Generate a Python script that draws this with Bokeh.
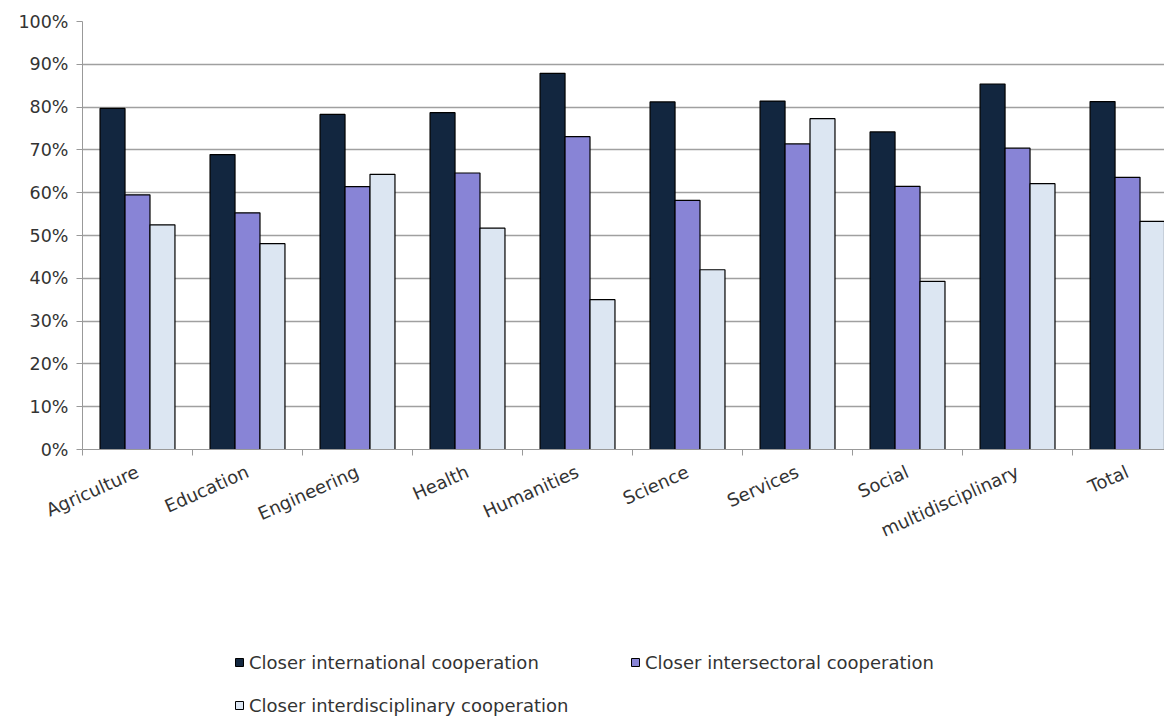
from bokeh.plotting import figure
from bokeh.layouts import column
from bokeh.models import (ColumnDataSource, Range1d, FixedTicker, PrintfTickFormatter,
                          Legend, LegendItem)
from bokeh.transform import dodge
from bokeh.embed import file_html
from bokeh.resources import INLINE
import numpy as np

categories = ["Agriculture", "Education", "Engineering", "Health", "Humanities",
              "Science", "Services", "Social", "multidisciplinary", "Total"]
international = [79.7, 68.9, 78.3, 78.7, 87.9, 81.2, 81.4, 74.2, 85.4, 81.3]
intersectoral = [59.5, 55.3, 61.4, 64.6, 73.1, 58.2, 71.4, 61.5, 70.4, 63.6]
interdisciplinary = [52.5, 48.1, 64.3, 51.7, 35.0, 42.0, 77.3, 39.3, 62.1, 53.3]
series_names = ["Closer international cooperation", "Closer intersectoral cooperation",
                "Closer interdisciplinary cooperation"]
y_ticks = list(range(0, 101, 10))

colors = ["#12263F", "#8884D6", "#DCE6F2"]
FONT = "DejaVu Sans"
W = 1164

xpos = np.arange(len(categories)) + 0.5
src = ColumnDataSource(dict(x=xpos, a=international, b=intersectoral, c=interdisciplinary))

p = figure(width=W, height=560, output_backend="svg", toolbar_location=None,
           x_range=Range1d(0, 9.836), y_range=Range1d(0, 100),
           min_border_left=82, min_border_top=21, min_border_right=0,
           min_border_bottom=111)
p.outline_line_color = None

bw = 0.227
for col, off, c in zip(["a", "b", "c"], [-bw, 0, bw], colors):
    p.vbar(x=dodge("x", off), top=col, width=bw, source=src,
           fill_color=c, line_color="#000000", line_width=1.2)

# y axis
p.yaxis.ticker = FixedTicker(ticks=y_ticks)
p.yaxis.formatter = PrintfTickFormatter(format="%d%%")
p.yaxis.axis_line_color = "#999999"
p.yaxis.major_tick_line_color = "#999999"
p.yaxis.major_tick_in = 0
p.yaxis.major_tick_out = 6
p.yaxis.minor_tick_line_color = None
p.yaxis.major_label_text_font = FONT
p.yaxis.major_label_text_font_size = "17.5px"
p.yaxis.major_label_text_color = "#333333"
p.yaxis.major_label_standoff = 8

# x axis
p.xaxis.ticker = FixedTicker(ticks=list(xpos), minor_ticks=list(range(0, 11)))
p.xaxis.major_label_overrides = {float(x): c for x, c in zip(xpos, categories)}
p.xaxis.major_tick_line_color = None
p.xaxis.minor_tick_line_color = "#999999"
p.xaxis.minor_tick_in = 0
p.xaxis.minor_tick_out = 6
p.xaxis.axis_line_color = "#999999"
p.xaxis.major_label_orientation = 0.42
p.xaxis.major_label_text_font = FONT
p.xaxis.major_label_text_font_size = "18px"
p.xaxis.major_label_text_color = "#333333"
p.xaxis.major_label_standoff = 15

p.xgrid.grid_line_color = None
p.ygrid.grid_line_color = "#A0A0A0"
p.ygrid.grid_line_width = 1.3

# legend panel (separate figure below the chart)
lf = figure(width=W, height=156, output_backend="svg", toolbar_location=None,
            x_range=Range1d(0, 1), y_range=Range1d(0, 1),
            x_axis_type=None, y_axis_type=None,
            min_border_left=0, min_border_right=0, min_border_top=0, min_border_bottom=0)
lf.outline_line_color = None
lf.grid.grid_line_color = None
offscreen = ColumnDataSource(dict(x=[-5.0], top=[-5.0]))
leg_r = [lf.vbar(x="x", top="top", width=0.1, source=offscreen, fill_color=c,
                 line_color="#000000", line_width=1) for c in colors]

# column-major fill: col 1 = international, interdisciplinary; col 2 = intersectoral
order = [0, 2, 1]
legend = Legend(items=[LegendItem(label=series_names[i], renderers=[leg_r[i]]) for i in order],
                ncols=2, location=(152, 0), border_line_color=None,
                background_fill_alpha=0, glyph_width=10, glyph_height=10,
                label_standoff=5, label_width=360, label_height=22, spacing=21,
                label_text_font=FONT, label_text_font_size="18px",
                label_text_color="#333333", padding=0, margin=0)
lf.add_layout(legend, "center")

layout = column(p, lf, spacing=0)
open("out.html", "w").write(file_html(layout, INLINE))
